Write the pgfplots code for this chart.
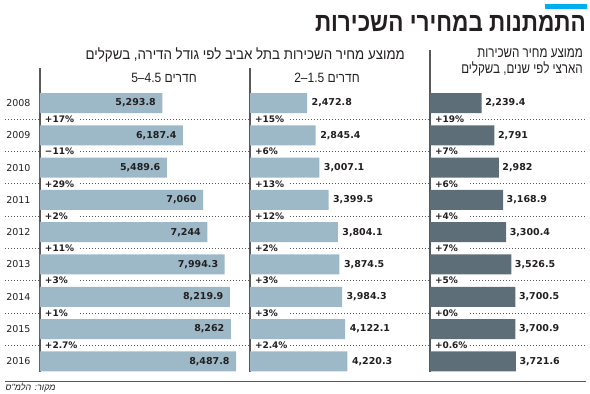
\documentclass[border=0pt]{standalone}
\usepackage{pgfplots}
\pgfplotsset{compat=1.18}
\usepackage{fontspec}
\setmainfont{DejaVu Sans}
\newfontfamily\heb[Script=Hebrew]{Liberation Sans}
\newfontfamily\hebsl[Script=Hebrew,FakeSlant=0.2]{Liberation Sans}
\TeXXeTstate=1
\definecolor{lightbar}{HTML}{9DB9C8}
\definecolor{darkbar}{HTML}{5E6E78}
\definecolor{accent}{HTML}{00AEEF}
\definecolor{txt}{HTML}{231F20}
\definecolor{axisc}{HTML}{58595B}
\newcommand{\R}[1]{\beginR #1\endR}
\pgfplotsset{
 panel/.style={scale only axis, height=304pt, ymin=-1.084, ymax=8.33, y dir=reverse, xmin=0,
   axis x line=none, axis y line*=left, y axis line style={draw=axisc, line width=1.3pt, -},
   xtick=\empty, ytick={0,...,8}, major tick length=0pt, anchor=north west, clip=false,
   yticklabel style={font=\fontsize{9.5}{10}\selectfont, text=txt, xshift=-6pt}},
 pct/.style={draw=none, mark=none, nodes near coords, point meta=explicit symbolic,
   nodes near coords style={anchor=west, fill=white, text width=30pt, align=left, inner xsep=4pt, inner ysep=1pt, xshift=0.8pt, font=\fontsize{9}{9}\selectfont\bfseries, text=txt}},
 val/.style={xbar, bar width=20pt, draw=none, nodes near coords, point meta=explicit symbolic,
   nodes near coords style={font=\fontsize{9.5}{10}\selectfont\bfseries, text=txt}},
}
\begin{document}
\begin{tikzpicture}
\useasboundingbox (0,0) rectangle (590pt,-394pt);
% dotted separators
\foreach \i in {0,...,7}{
  \draw[axisc, line width=0.8pt, dash pattern=on 0.8pt off 2.2pt] (5pt,{-(119.15+32.3*\i)*1pt}) -- (587pt,{-(119.15+32.3*\i)*1pt});
}
\draw[axisc, line width=1.3pt] (5pt,-381.7pt) -- (586pt,-381.7pt);
\draw[axisc, line width=1.3pt] (430pt,-50pt) -- (430pt,-69pt);
\fill[accent] (545pt,-3.5pt) rectangle (587pt,-8.5pt);

% left panel: 4.5-5 rooms
\begin{axis}[panel, at={(40pt,-68pt)}, width=207.9pt, xmax=9000,
  yticklabels={2008,2009,2010,2011,2012,2013,2014,2015,2016}]
\addplot[val, fill=lightbar, nodes near coords style={anchor=east, xshift=-3pt}] table[meta=l]{
x y l
5293.8 0 5,293.8
6187.4 1 6,187.4
5489.6 2 5,489.6
7060 3 7,060
7244 4 7,244
7994.3 5 7,994.3
8219.9 6 8,219.9
8262 7 8,262
8487.8 8 8,487.8
};
\addplot[pct] table[meta=l]{
x y l
0 0.5 +17\%
0 1.5 −11\%
0 2.5 +29\%
0 3.5 +2\%
0 4.5 +11\%
0 5.5 +3\%
0 6.5 +1\%
0 7.5 +2.7\%
};
\end{axis}

% middle panel: 1.5-2 rooms
\begin{axis}[panel, at={(250pt,-68pt)}, width=173.25pt, xmax=7500, yticklabels={}]
\addplot[val, fill=lightbar, nodes near coords style={anchor=west, xshift=1pt}] table[meta=l]{
x y l
2472.8 0 2,472.8
2845.4 1 2,845.4
3007.1 2 3,007.1
3399.5 3 3,399.5
3804.1 4 3,804.1
3874.5 5 3,874.5
3984.3 6 3,984.3
4122.1 7 4,122.1
4220.3 8 4,220.3
};
\addplot[pct] table[meta=l]{
x y l
0 0.5 +15\%
0 1.5 +6\%
0 2.5 +13\%
0 3.5 +12\%
0 4.5 +2\%
0 5.5 +3\%
0 6.5 +3\%
0 7.5 +2.4\%
};
\end{axis}

% right panel: national
\begin{axis}[panel, at={(430pt,-68pt)}, width=150.15pt, xmax=6500, yticklabels={}]
\addplot[val, fill=darkbar, nodes near coords style={anchor=west, xshift=0pt}] table[meta=l]{
x y l
2239.4 0 2,239.4
2791 1 2,791
2982 2 2,982
3168.9 3 3,168.9
3300.4 4 3,300.4
3526.5 5 3,526.5
3700.5 6 3,700.5
3700.9 7 3,700.9
3721.6 8 3,721.6
};
\addplot[pct] table[meta=l]{
x y l
0 0.5 +19\%
0 1.5 +7\%
0 2.5 +6\%
0 3.5 +4\%
0 4.5 +7\%
0 5.5 +5\%
0 6.5 +0\%
0 7.5 +0.6\%
};
\end{axis}

% texts
\node[anchor=east, inner sep=0, text=txt] at (586pt,-23pt) {\scalebox{0.85}[1]{\heb\bfseries\fontsize{26.5}{26.5}\selectfont\R{התמתנות במחירי השכירות}}};
\node[anchor=east, inner sep=0, text=txt] at (405pt,-55pt) {\scalebox{0.918}[1]{\heb\fontsize{14.5}{14.5}\selectfont\R{ממוצע מחיר השכירות בתל אביב לפי גודל הדירה, בשקלים}}};
\node[anchor=east, inner sep=0, text=txt] at (583pt,-53pt) {\scalebox{0.8}[1]{\heb\fontsize{14.5}{14.5}\selectfont\R{ממוצע מחיר השכירות}}};
\node[anchor=east, inner sep=0, text=txt] at (583pt,-69pt) {\scalebox{0.8}[1]{\heb\fontsize{14.5}{14.5}\selectfont\R{הארצי לפי שנים, בשקלים}}};
\node[inner sep=0, text=txt] at (164pt,-78pt) {\scalebox{0.89}[1]{\heb\fontsize{13.5}{13.5}\selectfont\R{חדרים 4.5–5}}};
\node[inner sep=0, text=txt] at (327pt,-78pt) {\scalebox{0.89}[1]{\heb\fontsize{13.5}{13.5}\selectfont\R{חדרים 1.5–2}}};
\node[anchor=west, inner sep=0, text=txt] at (5pt,-388pt) {\hebsl\fontsize{9}{9}\selectfont\R{מקור: הלמ"ס}};
\end{tikzpicture}
\end{document}
